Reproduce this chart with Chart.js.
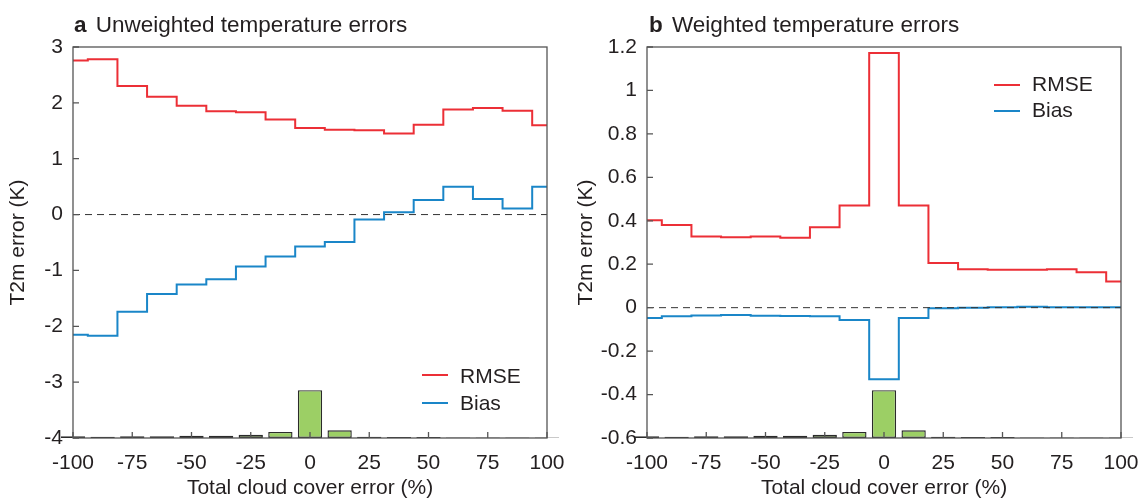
<!DOCTYPE html>
<html><head><meta charset="utf-8">
<script src="https://cdn.jsdelivr.net/npm/chart.js@4.4.1/dist/chart.umd.min.js"></script>
<style>
body{margin:0;background:#fff;width:1148px;height:499px;overflow:hidden;position:relative;font-family:"Liberation Sans",Arial,sans-serif;color:#231f20}
canvas{position:absolute;top:0}
.ttl{position:absolute;top:12px;font-size:22.5px;line-height:26px;white-space:nowrap}
.ttl b{margin-right:3px}
.leg{position:absolute;font-size:21px;line-height:24px;white-space:nowrap}
.ln{position:absolute;height:2px}
</style></head>
<body>
<canvas id="ca" width="574" height="499" style="left:0"></canvas>
<canvas id="cb" width="574" height="499" style="left:574px"></canvas>
<div class="ttl" style="left:74px"><b>a</b> Unweighted temperature errors</div>
<div class="ttl" style="left:649px"><b>b</b> Weighted temperature errors</div>
<div class="ln" style="left:422px;top:374px;width:26px;background:#ec2f36"></div>
<div class="leg" style="left:460px;top:364px">RMSE</div>
<div class="ln" style="left:422px;top:402px;width:26px;background:#1a86c8"></div>
<div class="leg" style="left:460px;top:391px">Bias</div>
<div class="ln" style="left:994px;top:84px;width:26px;background:#ec2f36"></div>
<div class="leg" style="left:1032px;top:72px">RMSE</div>
<div class="ln" style="left:994px;top:110px;width:26px;background:#1a86c8"></div>
<div class="leg" style="left:1032px;top:98px">Bias</div>
<script>
const binCenters = [-100,-87.5,-75,-62.5,-50,-37.5,-25,-12.5,0,12.5,25,37.5,50,62.5,75,87.5,100];
const rmseA = [2.76,2.78,2.30,2.11,1.95,1.85,1.83,1.70,1.55,1.52,1.51,1.45,1.61,1.88,1.91,1.86,1.60];
const biasA = [-2.15,-2.17,-1.74,-1.42,-1.25,-1.16,-0.93,-0.75,-0.57,-0.49,-0.09,0.04,0.26,0.50,0.28,0.11,0.50];
const rmseB = [0.403,0.38,0.328,0.324,0.328,0.322,0.37,0.47,1.172,0.47,0.206,0.177,0.175,0.175,0.177,0.163,0.121];
const biasB = [-0.047,-0.04,-0.036,-0.034,-0.037,-0.038,-0.04,-0.057,-0.329,-0.048,-0.003,0,0.002,0.004,0.002,0.002,0.002];
const histShare = [2.1,1.6,2.1,2.2,2.7,2.7,3.9,7.4,58.7,9.5,1.6,1.2,1.2,0.7,0.7,0.7,0.7];
const xTicks = [-100,-75,-50,-25,0,25,50,75,100];
const yTicksA = [-4,-3,-2,-1,0,1,2,3];
const yTicksB = [-0.6,-0.4,-0.2,0,0.2,0.4,0.6,0.8,1,1.2];

Chart.defaults.font.family = "'Liberation Sans', Arial, sans-serif";
Chart.defaults.color = '#231f20';

const pts = ys => binCenters.map((x, i) => ({x, y: ys[i]}));
const fmt = v => { const r = Math.round(v * 100) / 100; return r === 0 ? '0' : String(r); };

const frame = {
  id: 'frame',
  afterDraw(chart) {
    const {ctx, chartArea: a, scales: {x, y}} = chart;
    ctx.save();
    ctx.strokeStyle = '#555';
    ctx.lineWidth = 1.3;
    ctx.strokeRect(a.left, a.top, a.right - a.left, a.bottom - a.top);
    ctx.beginPath();
    x.ticks.forEach(t => { const p = x.getPixelForValue(t.value); ctx.moveTo(p, a.bottom); ctx.lineTo(p, a.bottom - 6); });
    y.ticks.forEach(t => { const p = y.getPixelForValue(t.value); ctx.moveTo(a.left, p); ctx.lineTo(a.left + 6, p); });
    ctx.stroke();
    ctx.restore();
  }
};

function makeChart(id, rmse, bias, yMin, yMax, yTicks, titlePad) {
  return new Chart(document.getElementById(id), {
    type: 'bar',
    data: {
      datasets: [
        {type: 'line', label: 'zero', data: [{x: -100, y: 0}, {x: 100, y: 0}], borderColor: '#333', borderWidth: 1, borderDash: [7, 5], pointRadius: 0, yAxisID: 'y'},
        {type: 'line', label: 'RMSE', data: pts(rmse), borderColor: '#ec2f36', borderWidth: 2, stepped: 'middle', pointRadius: 0, yAxisID: 'y'},
        {type: 'line', label: 'Bias', data: pts(bias), borderColor: '#1a86c8', borderWidth: 2, stepped: 'middle', pointRadius: 0, yAxisID: 'y'},
        {type: 'bar', label: 'Share', data: pts(histShare), yAxisID: 'yh', backgroundColor: '#9ccf65', borderColor: '#2b2b2b', borderWidth: 1.4, borderSkipped: false, barPercentage: 0.82, categoryPercentage: 1, clip: false}
      ]
    },
    options: {
      responsive: false,
      animation: false,
      devicePixelRatio: 1,
      layout: {padding: {left: 0, right: 27, top: 47, bottom: 0}},
      plugins: {legend: {display: false}, tooltip: {enabled: false}},
      scales: {
        x: {
          type: 'linear', min: -100, max: 100, offset: false,
          afterBuildTicks: s => { s.ticks = xTicks.map(v => ({value: v})); },
          ticks: {font: {size: 21}, padding: 13, maxRotation: 0, autoSkip: false, callback: v => String(v)},
          grid: {display: false, drawTicks: false, offset: false},
          border: {display: false},
          title: {display: true, text: 'Total cloud cover error (%)', font: {size: 21, lineHeight: 1}, padding: 0},
          afterFit: s => { s.height = 61; s.paddingLeft = 0; s.paddingRight = 0; }
        },
        y: {
          type: 'linear', min: yMin, max: yMax,
          afterBuildTicks: s => { s.ticks = yTicks.map(v => ({value: v})); },
          ticks: {font: {size: 21}, padding: 10, callback: v => fmt(v)},
          grid: {display: false, drawTicks: false},
          border: {display: false},
          title: {display: true, text: 'T2m error (K)', font: {size: 21, lineHeight: 1.2}, padding: {top: titlePad, bottom: 0}},
          afterFit: s => { s.width = 73; s.paddingTop = 0; s.paddingBottom = 0; }
        },
        yh: {type: 'linear', display: false, min: 0, max: 480}
      }
    },
    plugins: [frame]
  });
}

makeChart('ca', rmseA, biasA, -4, 3, yTicksA, 6);
makeChart('cb', rmseB, biasB, -0.6, 1.2, yTicksB, 0);
</script>
</body></html>
